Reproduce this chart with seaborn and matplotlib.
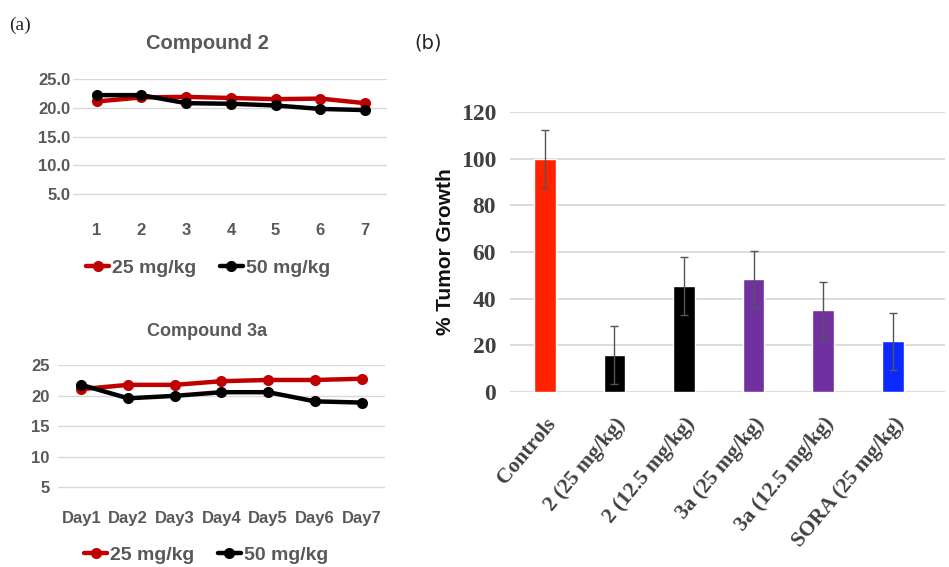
import matplotlib
matplotlib.use('Agg')
import pandas as pd
import seaborn as sns
import matplotlib.pyplot as plt
from matplotlib.lines import Line2D

# Compound 2 body weight (g), days 1-7
c2_days = [1, 2, 3, 4, 5, 6, 7]
c2_25 = [21.1, 21.8, 21.9, 21.7, 21.5, 21.6, 20.8]
c2_50 = [22.2, 22.2, 20.8, 20.7, 20.4, 19.8, 19.6]

# Compound 3a body weight (g)
c3_days = ["Day1", "Day2", "Day3", "Day4", "Day5", "Day6", "Day7"]
c3_25 = [21.1, 21.8, 21.8, 22.4, 22.6, 22.6, 22.8]
c3_50 = [21.8, 19.6, 20.0, 20.6, 20.6, 19.1, 18.9]

doses = ["25 mg/kg", "50 mg/kg"]
dose_colors = {"25 mg/kg": "#c00000", "50 mg/kg": "#000000"}

# tumor growth (%)
groups = ["Controls", "2 (25 mg/kg)", "2 (12.5 mg/kg)", "3a (25 mg/kg)",
          "3a (12.5 mg/kg)", "SORA (25 mg/kg)"]
growth = [99.8, 15.6, 45.4, 48.2, 34.9, 21.6]
growth_err = [12.5, 12.4, 12.4, 12.4, 12.4, 12.4]
bar_colors = ["#ff2200", "#000000", "#000000", "#7030a0", "#7030a0", "#0a28ff"]

df2 = pd.DataFrame({"day": c2_days * 2, "weight": c2_25 + c2_50,
                    "dose": [doses[0]] * 7 + [doses[1]] * 7})
df3 = pd.DataFrame({"day": c3_days * 2, "weight": c3_25 + c3_50,
                    "dose": [doses[0]] * 7 + [doses[1]] * 7})
dfb = pd.DataFrame({"group": groups, "growth": growth})

sns.set_style("white")
plt.rcParams['font.family'] = ['Liberation Sans', 'DejaVu Sans']
gray = "#595959"
grid_c = "#d9d9d9"

fig = plt.figure(figsize=(9.49, 5.67), dpi=100)
ax1 = fig.add_axes([0.0769, 0.6072, 0.3309, 0.2534])
ax2 = fig.add_axes([0.0611, 0.1058, 0.3446, 0.2499])
ax3 = fig.add_axes([0.5374, 0.3092, 0.4584, 0.4928])


def weight_panel(ax, df, ylo, fmt, leg_y, leg_x):
    sns.lineplot(data=df, x="day", y="weight", hue="dose", palette=dose_colors,
                 marker="o", markersize=8, markeredgewidth=0, linewidth=3.2,
                 sort=False, legend=False, ax=ax)
    ax.set_ylim(ylo, 25)
    ax.set_yticks([5, 10, 15, 20, 25])
    ax.set_yticklabels([fmt.format(v) for v in [5, 10, 15, 20, 25]])
    ax.grid(axis="y", color=grid_c, lw=1)
    ax.set_axisbelow(True)
    for s in ax.spines.values():
        s.set_visible(False)
    ax.set_xlabel("")
    ax.set_ylabel("")
    handles = [Line2D([], [], color=dose_colors[d], lw=3.2, marker="o", ms=8,
                      markeredgewidth=0) for d in doses]
    leg = ax.legend(handles, doses, loc="center", bbox_to_anchor=(leg_x, leg_y),
                    ncol=2, frameon=False, handlelength=1.2, handletextpad=0.15,
                    columnspacing=1.2, prop={"weight": "bold", "size": 14})
    for t in leg.get_texts():
        t.set_color(gray)


def bold_ticks(ax, size):
    ax.tick_params(length=0, labelsize=size, labelcolor=gray)
    for t in ax.get_xticklabels() + ax.get_yticklabels():
        t.set_fontweight("bold")


weight_panel(ax1, df2, 0, "{:.1f}", -0.315, 0.43)
ax1.set_xlim(0.47, 7.49)
ax1.set_xticks(c2_days)
bold_ticks(ax1, 12)
ax1.tick_params(axis="x", pad=0)
ax1.tick_params(axis="y", pad=2)

weight_panel(ax2, df3, 1.8, "{:d}", -0.34, 0.453)
ax2.set_xlim(-0.5, 6.5)
bold_ticks(ax2, 12)
ax2.tick_params(axis="x", pad=3)
ax2.tick_params(axis="y", pad=6)

fig.text(0.219, 0.924, "Compound 2", ha="center", va="center", fontsize=14.5,
         fontweight="bold", color=gray)
fig.text(0.218, 0.416, "Compound 3a", ha="center", va="center", fontsize=13,
         fontweight="bold", color=gray)

# bar chart
sns.barplot(data=dfb, x="group", y="growth", hue="group", palette=bar_colors,
            width=0.31, saturation=1, legend=False, ax=ax3)
ax3.errorbar(range(len(groups)), growth, yerr=growth_err, fmt="none",
             ecolor="#555555", elinewidth=1, capsize=3, capthick=1)
ax3.set_ylim(0, 120)
ax3.set_xlim(-0.5, 5.75)
ax3.set_yticks(range(0, 121, 20))
ax3.grid(axis="y", color=grid_c, lw=1.3)
ax3.set_axisbelow(True)
for s in ax3.spines.values():
    s.set_visible(False)
ax3.set_xlabel("")
ax3.set_ylabel("")
ax3.tick_params(length=0, labelsize=17, labelcolor="#404040", pad=10)
ax3.tick_params(axis="x", labelsize=15.5, pad=16)
for t in ax3.get_yticklabels():
    t.set_fontfamily("Liberation Serif")
    t.set_fontweight("bold")
for t in ax3.get_xticklabels():
    t.set_fontfamily("Liberation Serif")
    t.set_fontweight("bold")
    t.set_rotation(50)
    t.set_ha("right")
    t.set_rotation_mode("anchor")
fig.text(0.469, 0.556, "% Tumor Growth", rotation=90, ha="center", va="center",
         fontsize=15, fontweight="bold", color="#111111")

fig.text(0.021, 0.955, "(a)", ha="center", va="center", fontsize=14,
         family="Liberation Serif")
fig.text(0.451, 0.924, "(b)", ha="center", va="center", fontsize=14,
         family="DejaVu Sans")

fig.savefig("out.png", dpi=100)
